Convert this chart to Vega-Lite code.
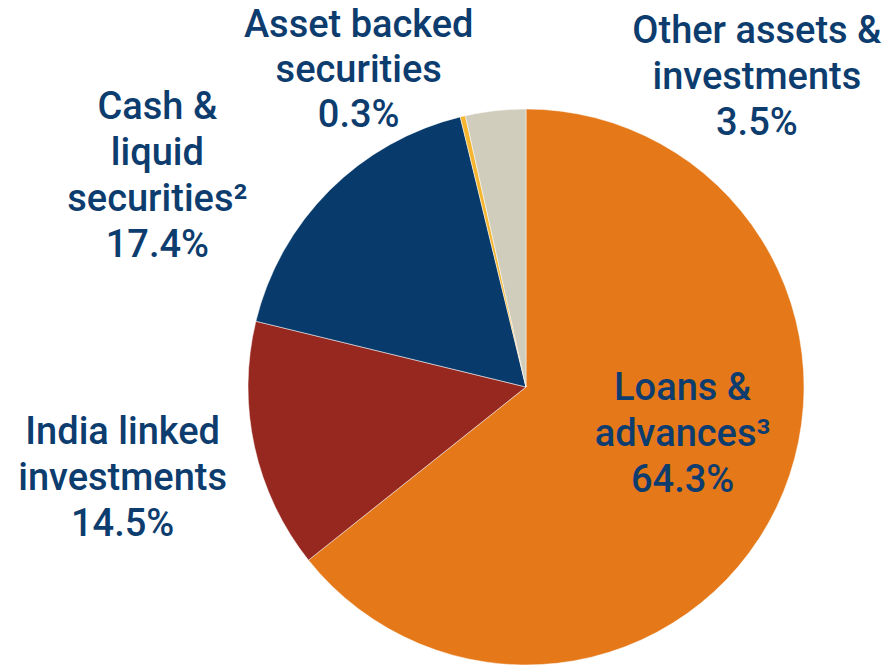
{
  "$schema": "https://vega.github.io/schema/vega-lite/v6.json",
  "autosize": "none",
  "width": 556,
  "height": 556,
  "padding": {"left": 248, "top": 109, "right": 88, "bottom": 2},
  "background": "white",
  "view": {"stroke": null},
  "data": {
    "values": [
      {"idx": 1, "category": "Loans & advances", "share": 64.3, "label": ["Loans &", "advances³", "64.3%"]},
      {"idx": 2, "category": "India linked investments", "share": 14.5, "label": ["India linked", "investments", "14.5%"]},
      {"idx": 3, "category": "Cash & liquid securities", "share": 17.4, "label": ["Cash &", "liquid", "securities²", "17.4%"]},
      {"idx": 4, "category": "Asset backed securities", "share": 0.3, "label": ["Asset backed", "securities", "0.3%"]},
      {"idx": 5, "category": "Other assets & investments", "share": 3.5, "label": ["Other assets &", "investments", "3.5%"]}
    ]
  },
  "encoding": {
    "theta": {"field": "share", "type": "quantitative", "stack": true},
    "order": {"field": "idx", "type": "quantitative"}
  },
  "layer": [
    {
      "mark": {"type": "arc", "outerRadius": 278, "stroke": "white", "strokeWidth": 0.5},
      "encoding": {
        "color": {
          "field": "category",
          "type": "nominal",
          "legend": null,
          "scale": {
            "domain": ["Loans & advances", "India linked investments", "Cash & liquid securities", "Asset backed securities", "Other assets & investments"],
            "range": ["#E57818", "#962820", "#083A6B", "#F5B52E", "#D0CDBC"]
          }
        }
      }
    },
    {
      "mark": {"type": "text", "radius": 165, "dx": 8, "dy": -70, "font": "Roboto", "fontWeight": 500, "fontSize": 38, "lineHeight": 46, "color": "#0D3C6E", "align": "center", "baseline": "middle"},
      "encoding": {"text": {"condition": {"test": "datum.idx === 1", "field": "label"}, "value": ""}}
    },
    {
      "mark": {"type": "text", "radius": 413, "dx": 0, "dy": -43, "font": "Roboto", "fontWeight": 500, "fontSize": 38, "lineHeight": 46, "color": "#0D3C6E", "align": "center", "baseline": "middle"},
      "encoding": {"text": {"condition": {"test": "datum.idx === 2", "field": "label"}, "value": ""}}
    },
    {
      "mark": {"type": "text", "radius": 370, "dx": -107, "dy": -17, "font": "Roboto", "fontWeight": 500, "fontSize": 38, "lineHeight": 46, "color": "#0D3C6E", "align": "center", "baseline": "middle"},
      "encoding": {"text": {"condition": {"test": "datum.idx === 3", "field": "label"}, "value": ""}}
    },
    {
      "mark": {"type": "text", "radius": 340, "dx": -90, "dy": -30, "font": "Roboto", "fontWeight": 500, "fontSize": 38, "lineHeight": 45, "color": "#0D3C6E", "align": "center", "baseline": "middle"},
      "encoding": {"text": {"condition": {"test": "datum.idx === 4", "field": "label"}, "value": ""}}
    },
    {
      "mark": {"type": "text", "radius": 320, "dx": 266, "dy": -37, "font": "Roboto", "fontWeight": 500, "fontSize": 38, "lineHeight": 46, "color": "#0D3C6E", "align": "center", "baseline": "middle"},
      "encoding": {"text": {"condition": {"test": "datum.idx === 5", "field": "label"}, "value": ""}}
    }
  ]
}
